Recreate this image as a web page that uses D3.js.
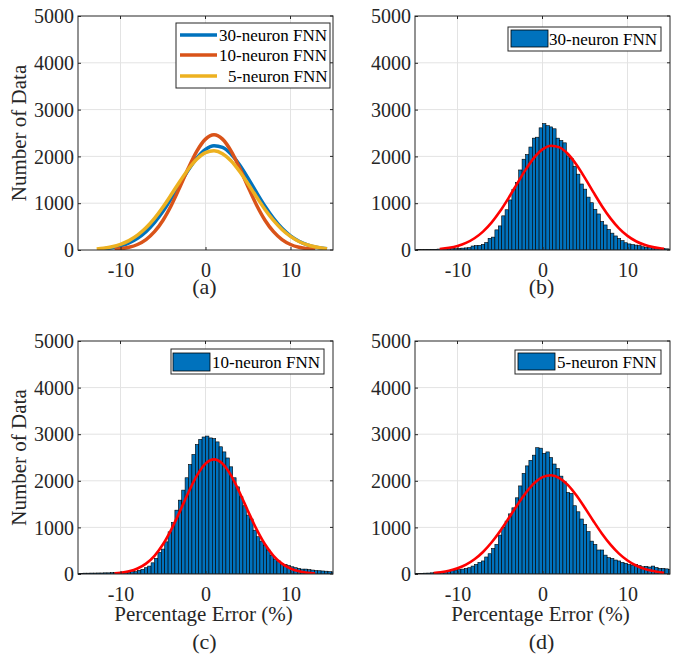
<!DOCTYPE html>
<html><head><meta charset="utf-8">
<script src="https://cdn.jsdelivr.net/npm/d3@7"></script>
<style>
body{margin:0;background:#fff}
svg text{font-family:"Liberation Serif","Times New Roman",serif !important;}
</style>
</head><body>
<svg id="chart" width="675" height="656"></svg>
<script>
// ---------------- data ----------------
const xTicks = [-10, 0, 10];
const yTicks = [0, 1000, 2000, 3000, 4000, 5000];
const xDomain = [-15, 15];
const yDomain = [0, 5000];
const binWidth = 0.4;
// bin centres -15.0 ... 15.0 (76 bins)
const binCenters = d3.range(76).map(i => +(-15 + i * binWidth).toFixed(1));

const seriesNames = ["30-neuron FNN", "10-neuron FNN", "5-neuron FNN"];
const seriesColors = ["#0072BD", "#D95319", "#EDB120"];

const counts30 = [5,8,8,10,12,15,15,20,20,25,25,30,30,
  35,40,45,50,85,95,100,120,160,250,
  275,430,515,730,860,1070,1290,1440,1710,1940,2040,2200,2390,2410,2610,2700,
  2657,2630,2590,2390,2340,2290,2010,1960,1790,1620,1410,1300,1130,1010,870,770,610,535,440,360,300,250,200,155,130,115,105,95,70,
  60,50,45,40,35,30,25,20];
const counts10 = [15,15,18,18,20,20,22,22,25,25,28,28,30,
  35,35,40,50,50,80,100,135,170,240,335,465,535,690,905,1105,1370,1585,1800,2065,2350,2565,2780,2890,2940,2960,
  2920,2905,2835,2730,2620,2490,2300,2065,1870,1657,1465,1265,1180,940,800,705,620,515,405,320,280,230,205,180,155,135,120,105,105,95,
  85,75,70,65,60,50,45];
const counts5 = [10,12,15,18,20,25,30,35,45,55,65,75,85,
  95,105,120,135,170,205,250,280,365,435,550,635,835,1000,1135,1290,1420,1635,1890,2160,2320,2440,2550,2710,2700,2590,
  2620,2500,2360,2265,2100,1980,1750,1730,1465,1335,1180,1065,910,705,635,515,515,405,350,335,300,280,250,230,205,190,205,180,155,165,
  150,170,140,120,120,110,95];

// fitted normal curves
const fit30X = [-12.1,-11,-10,-9,-8,-7,-6,-5,-4,-3,-2,-1,0,1,2,3,4,5,6,7,8,9,10,11,12,13,14,14.3];
const fit30Y = [23,48,87,152,251,393,585,826,1109,1414,1712,1968,2149,2228,2193,2051,1821,1536,1230,936,676,463,302,187,110,61,32,27];
const fit10X = [-10.7,-10,-9,-8,-7,-6,-5,-4,-3,-2,-1,0,1,2,3,4,5,6,7,8,9,10,11,12,12.9];
const fit10Y = [14,26,58,118,223,391,637,963,1350,1755,2117,2369,2460,2369,2117,1755,1350,963,637,391,223,118,58,26,12];
const fit5X = [-12.8,-12,-11,-10,-9,-8,-7,-6,-5,-4,-3,-2,-1,0,1,2,3,4,5,6,7,8,9,10,11,12,13,14,14.3];
const fit5Y = [23,39,70,122,201,316,473,675,918,1190,1471,1732,1944,2079,2119,2059,1907,1683,1415,1134,866,631,438,290,182,110,63,34,28];

const fits = [
  {x: fit30X, y: fit30Y},
  {x: fit10X, y: fit10Y},
  {x: fit5X, y: fit5Y}
];
const histCounts = [counts30, counts10, counts5];

// ---------------- layout ----------------
const FONT = '"Liberation Serif","Times New Roman",serif';
const svg = d3.select("#chart");
svg.append("rect").attr("width", 675).attr("height", 656).attr("fill", "#fff");

const panels = [
  {key:"a", x:78,  y:16,  w:255, h:234, label:"(a)", labelY:294, ylabel:true,  xlabel:false, type:"fits"},
  {key:"b", x:415, y:16,  w:255, h:234, label:"(b)", labelY:294, ylabel:false, xlabel:false, type:"hist", s:0},
  {key:"c", x:78,  y:341, w:255, h:233, label:"(c)", labelY:649, ylabel:true,  xlabel:true,  type:"hist", s:1},
  {key:"d", x:415, y:341, w:255, h:233, label:"(d)", labelY:649, ylabel:false, xlabel:true,  type:"hist", s:2}
];

const axisColor = "#262626";
const gridColor = "#e3e3e3";

function txt(sel, size, color) {
  return sel.attr("font-family", FONT).style("font-family", FONT)
    .style("font-size", size + "px").attr("fill", color || axisColor);
}

panels.forEach(p => {
  const g = svg.append("g").attr("transform", `translate(${p.x},${p.y})`);
  const x = d3.scaleLinear().domain(xDomain).range([0, p.w]);
  const y = d3.scaleLinear().domain(yDomain).range([p.h, 0]);

  const clipId = "clip-" + p.key;
  g.append("clipPath").attr("id", clipId)
    .append("rect").attr("width", p.w).attr("height", p.h);

  // grid
  const grid = g.append("g");
  grid.selectAll("line.gx").data(xTicks).join("line")
    .attr("x1", d => x(d)).attr("x2", d => x(d))
    .attr("y1", 0).attr("y2", p.h)
    .attr("stroke", gridColor).attr("stroke-width", 1);
  grid.selectAll("line.gy").data(yTicks.slice(1, -1)).join("line")
    .attr("x1", 0).attr("x2", p.w)
    .attr("y1", d => y(d)).attr("y2", d => y(d))
    .attr("stroke", gridColor).attr("stroke-width", 1);

  const plot = g.append("g").attr("clip-path", `url(#${clipId})`);
  const line = d3.line().x(d => x(d[0])).y(d => y(d[1])).curve(d3.curveMonotoneX);

  if (p.type === "fits") {
    fits.forEach((f, i) => {
      plot.append("path")
        .datum(f.x.map((v, j) => [v, f.y[j]]))
        .attr("d", line)
        .attr("fill", "none")
        .attr("stroke", seriesColors[i])
        .attr("stroke-width", 3.5)
        .attr("stroke-linejoin", "round");
    });
  } else {
    const c = histCounts[p.s];
    plot.selectAll("rect.bar").data(binCenters).join("rect")
      .attr("x", d => x(d - binWidth / 2))
      .attr("width", d => x(d + binWidth / 2) - x(d - binWidth / 2))
      .attr("y", (d, i) => y(c[i]))
      .attr("height", (d, i) => y(0) - y(c[i]))
      .attr("fill", "#0072BD")
      .attr("stroke", "#000")
      .attr("stroke-width", 0.6);
    const f = fits[p.s];
    plot.append("path")
      .datum(f.x.map((v, j) => [v, f.y[j]]))
      .attr("d", line)
      .attr("fill", "none")
      .attr("stroke", "#FF0000")
      .attr("stroke-width", 2.6);
  }

  // axes
  const xa = g.append("g").attr("transform", `translate(0,${p.h})`)
    .call(d3.axisBottom(x).tickValues(xTicks).tickSize(-3).tickSizeOuter(0).tickPadding(0)
      .tickFormat(d => d < 0 ? "-" + Math.abs(d) : String(d)));
  xa.attr("font-family", FONT);
  xa.select(".domain").remove();
  xa.selectAll("line").attr("stroke", axisColor);
  txt(xa.selectAll("text").attr("y", 27).attr("dy", null), 20);

  const ya = g.append("g")
    .call(d3.axisLeft(y).tickValues(yTicks).tickSize(-3).tickSizeOuter(0).tickPadding(4)
      .tickFormat(d3.format("d")));
  ya.attr("font-family", FONT);
  ya.select(".domain").remove();
  ya.selectAll("line").attr("stroke", axisColor);
  txt(ya.selectAll("text").attr("dy", "0.33em"), 20);

  // mirrored ticks on top / right
  g.selectAll("line.tt").data(xTicks).join("line")
    .attr("x1", d => x(d)).attr("x2", d => x(d)).attr("y1", 0).attr("y2", 3)
    .attr("stroke", axisColor);
  g.selectAll("line.tr").data(yTicks).join("line")
    .attr("x1", p.w).attr("x2", p.w - 3).attr("y1", d => y(d)).attr("y2", d => y(d))
    .attr("stroke", axisColor);

  // box
  g.append("rect").attr("width", p.w).attr("height", p.h)
    .attr("fill", "none").attr("stroke", axisColor).attr("stroke-width", 1);

  // labels
  if (p.ylabel) {
    txt(svg.append("text")
      .attr("transform", `translate(${26},${p.y + p.h / 2}) rotate(-90)`)
      .attr("text-anchor", "middle")
      .text("Number of Data"), 21);
  }
  if (p.xlabel) {
    txt(svg.append("text")
      .attr("x", p.x + p.w / 2 - 2).attr("y", p.y + p.h + 47)
      .attr("text-anchor", "middle")
      .text("Percentage Error (%)"), 21);
  }
  txt(svg.append("text")
    .attr("x", p.x + p.w / 2 - 1).attr("y", p.labelY)
    .attr("text-anchor", "middle")
    .text(p.label), 22);

  // legends
  if (p.type === "fits") {
    const lg = g.append("g");
    lg.append("rect").attr("x", 176 - p.x).attr("y", 23 - p.y).attr("width", 154).attr("height", 65)
      .attr("fill", "#fff").attr("stroke", axisColor).attr("stroke-width", 1);
    const rowsY = [35, 55, 76];
    seriesNames.forEach((n, i) => {
      lg.append("line")
        .attr("x1", 180 - p.x).attr("x2", 217 - p.x)
        .attr("y1", rowsY[i] - p.y).attr("y2", rowsY[i] - p.y)
        .attr("stroke", seriesColors[i]).attr("stroke-width", 3.5);
      txt(lg.append("text")
        .attr("x", (i === 2 ? 228 : 219) - p.x).attr("y", rowsY[i] - p.y + 6)
        .text(n), 17, "#000");
    });
  } else {
    const L = {b: {bx:508, by:27, bw:153, bh:24, px:511, py:30, tx:549},
               c: {bx:171, by:349, bw:153, bh:25, px:173, py:353, tx:212},
               d: {bx:515, by:350, bw:146, bh:24, px:518, py:353, tx:557}}[p.key];
    svg.append("rect").attr("x", L.bx).attr("y", L.by).attr("width", L.bw).attr("height", L.bh)
      .attr("fill", "#fff").attr("stroke", axisColor).attr("stroke-width", 1);
    svg.append("rect").attr("x", L.px).attr("y", L.py).attr("width", 37).attr("height", L.bh - 7)
      .attr("fill", "#0072BD").attr("stroke", "#000").attr("stroke-width", 0.8);
    txt(svg.append("text").attr("x", L.tx).attr("y", L.by + L.bh / 2 + 6)
      .text(seriesNames[p.s]), 17, "#000");
  }
});
</script>
</body></html>
